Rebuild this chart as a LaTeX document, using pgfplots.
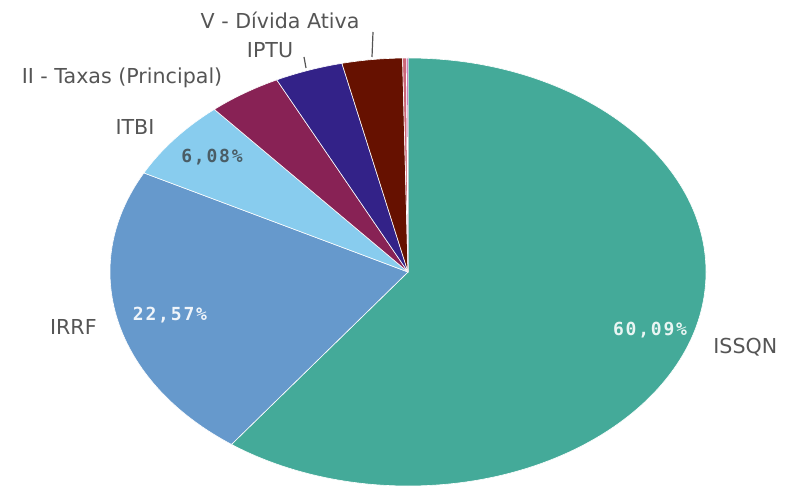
\documentclass[border=0pt]{standalone}
\usepackage{pgfplots}
\pgfplotsset{compat=1.18}
\usepackage{pgfplotstable}
\usepackage{fontspec}
\setmainfont{DejaVu Sans}
\newfontfamily\pctfont[LetterSpace=10]{DejaVu Sans Mono}
\definecolor{cissqn}{HTML}{44AA99}
\definecolor{cirrf}{HTML}{6699CC}
\definecolor{citbi}{HTML}{88CCEE}
\definecolor{ctaxas}{HTML}{882255}
\definecolor{ciptu}{HTML}{332288}
\definecolor{cdivida}{HTML}{661100}
\definecolor{crose}{HTML}{CC6677}
\definecolor{cpurple}{HTML}{AA4499}
\definecolor{labgray}{HTML}{555555}

% share of each revenue, clockwise from 12 o'clock
\pgfplotstableread{
name pct col
ISSQN 60.09 cissqn
IRRF 22.57 cirrf
ITBI 6.08 citbi
Taxas 4.00 ctaxas
IPTU 3.70 ciptu
Divida 3.27 cdivida
Outros1 0.20 crose
Outros2 0.09 cpurple
}\piedata

\begin{document}
\begin{tikzpicture}
\begin{axis}[
  scale only axis, width=396pt, height=243.5pt,
  xmin=0, xmax=792, ymin=0, ymax=487,
  hide axis, clip=false,
]
\pgfplotsextra{
  \xdef\cum{0}
  \foreach \i in {0,...,7}{
    \pgfplotstablegetelem{\i}{pct}\of\piedata \let\p\pgfplotsretval
    \pgfplotstablegetelem{\i}{col}\of\piedata \let\c\pgfplotsretval
    \pgfmathsetmacro\a{90-3.6*\cum}
    \pgfmathsetmacro\b{90-3.6*(\cum+\p)}
    \fill[\c, draw=white, line width=0.3pt, line join=round]
      (axis cs:408,215) -- ++(\a:149pt and 107pt)
      arc[start angle=\a, end angle=\b, x radius=149pt, y radius=107pt] -- cycle;
    \pgfmathsetmacro\n{\cum+\p}\xdef\cum{\n}
  }
}
% value labels
\node[font=\pctfont\bfseries\fontsize{9}{10}\selectfont, text=white!88!cissqn] at (axis cs:650,157) {60,09\%};
\node[font=\pctfont\bfseries\fontsize{9}{10}\selectfont, text=white!90!cirrf] at (axis cs:170,172) {22,57\%};
\node[font=\pctfont\bfseries\fontsize{9}{10}\selectfont, text=labgray!60!citbi!70!black] at (axis cs:212,330) {6,08\%};
% category labels
\begin{scope}[every node/.style={font=\fontsize{10.3}{12}\selectfont, text=labgray, inner sep=0pt}]
\node[anchor=west] at (axis cs:713,140) {ISSQN};
\node[anchor=east] at (axis cs:97,160) {IRRF};
\node at (axis cs:135,360) {ITBI};
\node at (axis cs:122,409) {II - Taxas (Principal)};
\node at (axis cs:270,437) {IPTU};
\node at (axis cs:280,467) {V - Dívida Ativa};
\end{scope}
\draw[labgray, line width=0.6pt] (axis cs:304,430) -- (axis cs:306,419);
\draw[labgray, line width=0.6pt] (axis cs:373,455) -- (axis cs:372,430);
\end{axis}
\pgfresetboundingbox
\path[use as bounding box] (current axis.south west) rectangle (current axis.north east);
\end{tikzpicture}
\end{document}
